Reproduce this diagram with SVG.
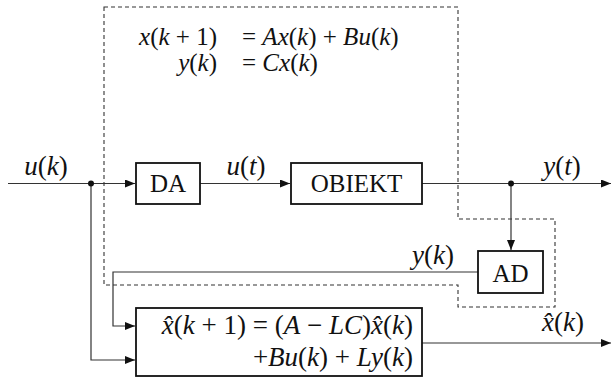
<svg xmlns="http://www.w3.org/2000/svg" width="611" height="378" viewBox="0 0 611 378">
<defs>
<marker id="ar" viewBox="0 0 10 8" refX="10" refY="4" markerWidth="10" markerHeight="8" markerUnits="userSpaceOnUse" orient="auto">
<path d="M0,0 L10,4 L0,8 Z" fill="#111"/>
</marker>
</defs>
<rect width="611" height="378" fill="#fff"/>
<g id="system-boundary">
<path fill="none" stroke="#333" stroke-width="1.1" stroke-dasharray="4,3" d="M104,7 H458 V219 H555 V307 H458 V285 H104 Z"/>
</g>
<g id="model-equations" fill="#111">
<text font-family="Liberation Serif, serif" font-size="25" x="217" y="45" text-anchor="end"><tspan font-style="italic">x</tspan>(<tspan font-style="italic">k</tspan> + 1)</text>
<text font-family="Liberation Serif, serif" font-size="25" x="242" y="45">= <tspan font-style="italic">Ax</tspan>(<tspan font-style="italic">k</tspan>) + <tspan font-style="italic">Bu</tspan>(<tspan font-style="italic">k</tspan>)</text>
<text font-family="Liberation Serif, serif" font-size="25" x="217" y="71" text-anchor="end"><tspan font-style="italic">y</tspan>(<tspan font-style="italic">k</tspan>)</text>
<text font-family="Liberation Serif, serif" font-size="25" x="242" y="71">= <tspan font-style="italic">Cx</tspan>(<tspan font-style="italic">k</tspan>)</text>
</g>
<g id="connectors" fill="none" stroke="#333" stroke-width="1.2">
<path d="M8,183.5 H135" marker-end="url(#ar)"/>
<path d="M91,183.5 V360 H135" marker-end="url(#ar)"/>
<path d="M200,183.5 H290" marker-end="url(#ar)"/>
<path d="M422,183.5 H611" marker-end="url(#ar)"/>
<path d="M511,183.5 V250" marker-end="url(#ar)"/>
<path d="M478,272 H113 V326 H135" marker-end="url(#ar)"/>
<path d="M422,343 H611" marker-end="url(#ar)"/>
<circle cx="91" cy="183.5" r="3" fill="#111" stroke="none"/>
<circle cx="511" cy="183.5" r="3" fill="#111" stroke="none"/>
</g>
<g id="connector-labels" fill="#111">
<text font-family="Liberation Serif, serif" font-size="27" x="46" y="174.5" text-anchor="middle"><tspan font-style="italic">u</tspan>(<tspan font-style="italic">k</tspan>)</text>
<text font-family="Liberation Serif, serif" font-size="27" x="246" y="174.5" text-anchor="middle"><tspan font-style="italic">u</tspan>(<tspan font-style="italic">t</tspan>)</text>
<text font-family="Liberation Serif, serif" font-size="27" x="562" y="175" text-anchor="middle"><tspan font-style="italic">y</tspan>(<tspan font-style="italic">t</tspan>)</text>
<text font-family="Liberation Serif, serif" font-size="27" x="433" y="264" text-anchor="middle"><tspan font-style="italic">y</tspan>(<tspan font-style="italic">k</tspan>)</text>
<text font-family="Liberation Serif, serif" font-size="27" x="563" y="331" text-anchor="middle"><tspan font-style="italic">x̂</tspan>(<tspan font-style="italic">k</tspan>)</text>
</g>
<g id="DA">
<rect fill="#fff" stroke="#111" stroke-width="1.8" x="136" y="163" width="64" height="41"/>
<text font-family="Liberation Serif, serif" font-size="25" fill="#111" x="168" y="192" text-anchor="middle">DA</text>
</g>
<g id="OBIEKT">
<rect fill="#fff" stroke="#111" stroke-width="1.8" x="291" y="163" width="131" height="41"/>
<text font-family="Liberation Serif, serif" font-size="25" fill="#111" x="356.5" y="192" text-anchor="middle">OBIEKT</text>
</g>
<g id="AD">
<rect fill="#fff" stroke="#111" stroke-width="1.8" x="478" y="251" width="65" height="42"/>
<text font-family="Liberation Serif, serif" font-size="25" fill="#111" x="510.5" y="282" text-anchor="middle">AD</text>
</g>
<g id="observer">
<rect fill="#fff" stroke="#111" stroke-width="1.8" x="136" y="308" width="286" height="68"/>
<text font-family="Liberation Serif, serif" font-size="27" fill="#111" x="413" y="334" text-anchor="end"><tspan font-style="italic">x̂</tspan>(<tspan font-style="italic">k</tspan> + 1) = (<tspan font-style="italic">A</tspan> − <tspan font-style="italic">LC</tspan>)<tspan font-style="italic">x̂</tspan>(<tspan font-style="italic">k</tspan>)</text>
<text font-family="Liberation Serif, serif" font-size="27" fill="#111" x="413" y="366" text-anchor="end">+<tspan font-style="italic">Bu</tspan>(<tspan font-style="italic">k</tspan>) + <tspan font-style="italic">Ly</tspan>(<tspan font-style="italic">k</tspan>)</text>
</g>
</svg>
